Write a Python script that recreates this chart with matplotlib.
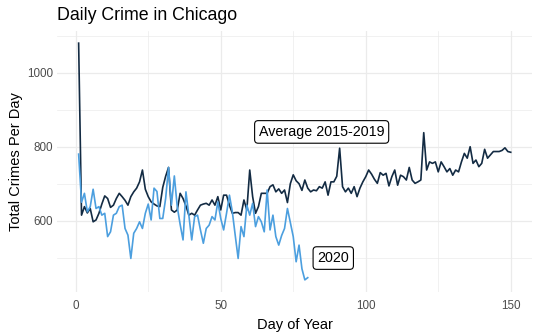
import matplotlib
matplotlib.use("Agg")
import matplotlib.pyplot as plt
from matplotlib.ticker import MultipleLocator, FixedLocator

plt.rcParams['font.family'] = ['Liberation Sans', 'DejaVu Sans']

# Average 2015-2019, days 1..150
avg_days = list(range(1, 151))
avg_values = [
    1080, 615, 638, 621, 633, 597, 602, 620, 645, 667,
    660, 636, 642, 660, 674, 665, 655, 642, 665, 678,
    688, 705, 737, 685, 665, 651, 645, 640, 638, 690,
    720, 744, 629, 623, 629, 674, 660, 640, 615, 620,
    615, 629, 642, 645, 647, 642, 656, 642, 665, 629,
    669, 669, 642, 620, 622, 622, 615, 656, 629, 737,
    665, 620, 638, 674, 674, 674, 692, 697, 678, 686,
    674, 683, 649, 700, 724, 708, 700, 682, 710, 688,
    678, 683, 681, 692, 688, 705, 669, 705, 705, 720,
    796, 692, 678, 688, 674, 692, 665, 688, 705, 719,
    737, 726, 712, 701, 730, 723, 728, 694, 719, 737,
    696, 723, 719, 710, 744, 710, 701, 705, 710, 838,
    737, 759, 755, 759, 732, 759, 746, 732, 741, 723,
    737, 732, 759, 782, 769, 800, 755, 764, 746, 755,
    793, 769, 778, 787, 787, 787, 790, 797, 787, 785,
]

# 2020, days 1..80
y2020_days = list(range(1, 81))
y2020_values = [
    780, 650, 674, 624, 638, 685, 633, 638, 615, 620,
    557, 570, 615, 620, 638, 642, 579, 561, 498, 566,
    579, 597, 579, 620, 645, 602, 688, 679, 606, 606,
    660, 744, 642, 721, 638, 590, 548, 678, 615, 548,
    611, 615, 575, 539, 579, 588, 611, 602, 651, 606,
    575, 620, 669, 624, 560, 498, 584, 557, 642, 615,
    647, 584, 611, 597, 570, 683, 575, 615, 557, 534,
    560, 579, 633, 595, 557, 489, 534, 470, 440, 446,
]

title = "Daily Crime in Chicago"
x_label = "Day of Year"
y_label = "Total Crimes Per Day"
label_avg = "Average 2015-2019"
label_2020 = "2020"
label_avg_pos = (84.8, 840)
label_2020_pos = (88.8, 499)
y_ticks = [600, 800, 1000]
x_ticks = [0, 50, 100, 150]

col_avg = "#132B43"
col_2020 = "#4C9FDF"

fig = plt.figure(figsize=(5.38, 3.36), dpi=100)
ax = fig.add_axes([0.106, 0.1318, 0.8835, 0.775])

ax.plot(avg_days, avg_values, color=col_avg, lw=1.2, zorder=3)
ax.plot(y2020_days, y2020_values, color=col_2020, lw=1.2, zorder=3)

all_x = avg_days + y2020_days
all_y = avg_values + y2020_values
xr = max(all_x) - min(all_x)
yr = max(all_y) - min(all_y)
ax.set_xlim(min(all_x) - 0.05 * xr, max(all_x) + 0.05 * xr)
ax.set_ylim(min(all_y) - 0.05 * yr, max(all_y) + 0.05 * yr)
ax.xaxis.set_major_locator(FixedLocator(x_ticks))
ax.xaxis.set_minor_locator(MultipleLocator(25))
ax.yaxis.set_major_locator(FixedLocator(y_ticks))
ax.yaxis.set_minor_locator(MultipleLocator(100))
ax.grid(True, which='major', color='#EBEBEB', lw=0.9, zorder=0)
ax.grid(True, which='minor', color='#EBEBEB', lw=0.5, zorder=0)
ax.set_axisbelow(True)
for s in ax.spines.values():
    s.set_visible(False)
ax.tick_params(which='both', length=0)
ax.tick_params(axis='y', labelsize=8.4, labelcolor='#4D4D4D', pad=3)
ax.tick_params(axis='x', labelsize=8.4, labelcolor='#4D4D4D', pad=6)

ax.set_xlabel(x_label, fontsize=10.5, labelpad=4)
ax.set_ylabel(y_label, fontsize=10.5, labelpad=3)
ax.set_title(title, fontsize=12.8, loc='left', pad=8)

bbox = dict(boxstyle='round,pad=0.3,rounding_size=0.25', fc='white', ec='black', lw=0.8)
ax.text(*label_avg_pos, label_avg, fontsize=10.3, ha='center', va='center', bbox=bbox, zorder=5)
ax.text(*label_2020_pos, label_2020, fontsize=10.3, ha='center', va='center', bbox=bbox, zorder=5)

fig.savefig("out.png", dpi=100)
